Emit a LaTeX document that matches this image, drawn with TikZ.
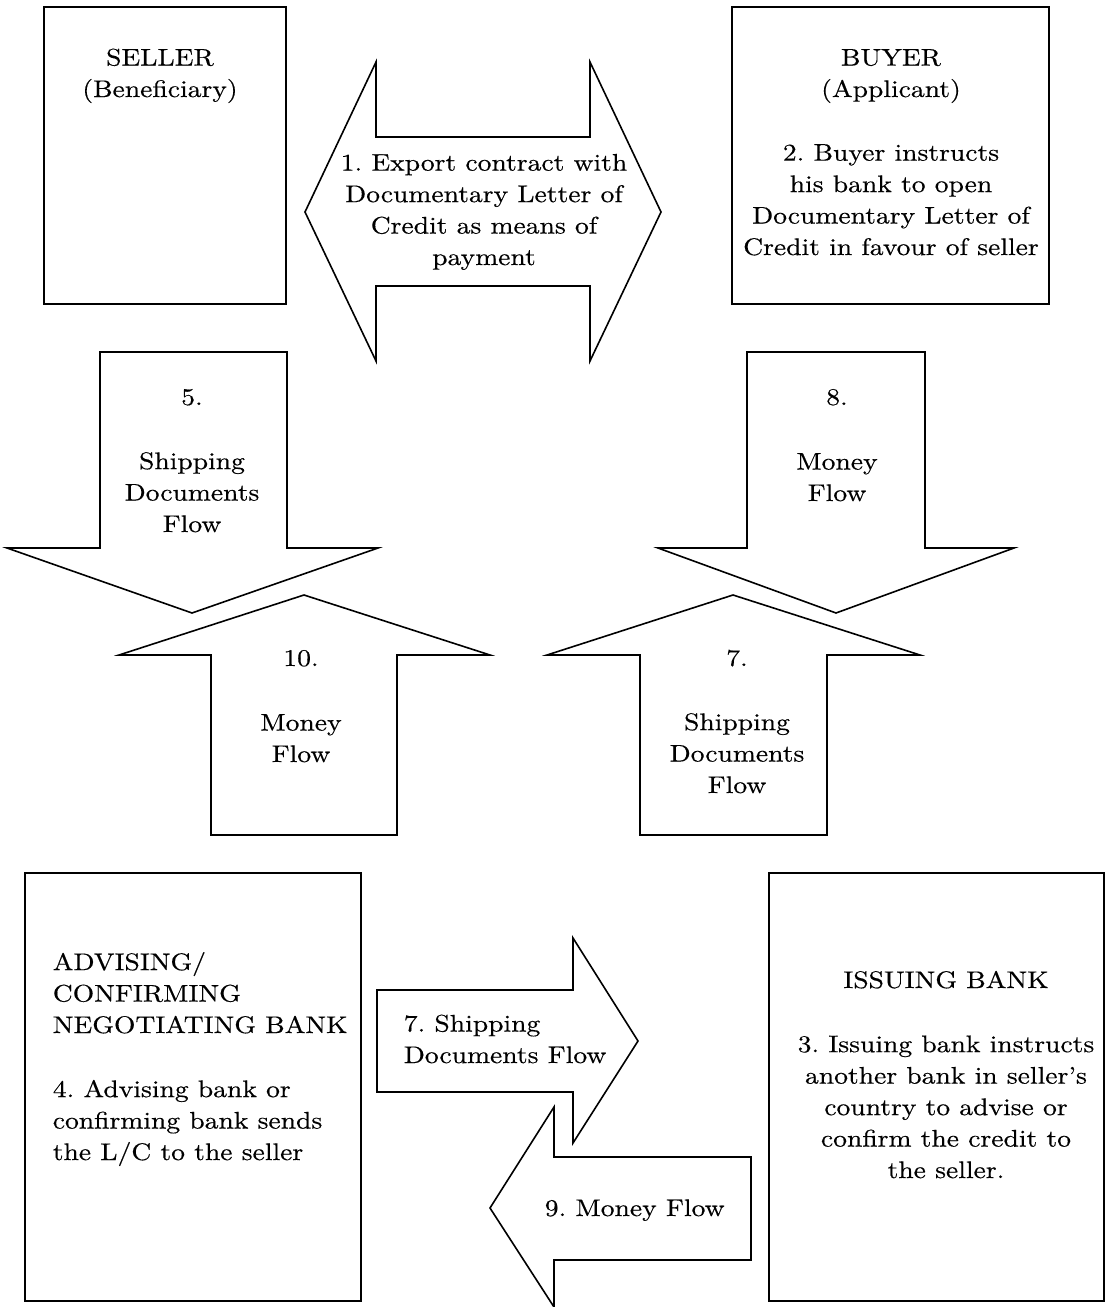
\documentclass[tikz,border=0pt]{standalone}
\usepackage{fontspec}
\setmainfont{lmroman10-regular.otf}[FakeStretch=1.15, FakeBold=0.4]
\usetikzlibrary{positioning}
\frenchspacing

\tikzset{
  txt/.style={align=center, inner sep=0pt, anchor=base},
  ltxt/.style={align=left, inner sep=0pt, anchor=base west},
}

\begin{document}
\begin{tikzpicture}[x=0.75pt, y=-0.75pt, line width=1.2pt,
    font=\fontsize{18pt}{23.6pt}\selectfont]

  \useasboundingbox (0,0) rectangle (1109,1307);

  % the four parties
  \draw (44,7) rectangle (286,304);
  \draw (732,7) rectangle (1049,304);
  \draw (25,873) rectangle (361,1301);
  \draw (769,873) rectangle (1104,1301);

  % 1. contract between seller and buyer (double arrow)
  \draw (305,212) -- (376,62) -- (376,137) -- (590,137) -- (590,62)
     -- (661,212) -- (590,361) -- (590,286) -- (376,286) -- (376,361) -- cycle;

  % 5. and 8. (down)
  \draw (100,352) -- (287,352) -- (287,548) -- (378,548) -- (192,613)
     -- (7,548) -- (100,548) -- cycle;
  \draw (747,352) -- (925,352) -- (925,548) -- (1014,548) -- (836,613)
     -- (658,548) -- (747,548) -- cycle;

  % 10. and 7. (up)
  \draw (211,835) -- (397,835) -- (397,655) -- (490,655) -- (304,595)
     -- (119,655) -- (211,655) -- cycle;
  \draw (640,835) -- (827,835) -- (827,655) -- (920,655) -- (733,595)
     -- (547,655) -- (640,655) -- cycle;

  % between the banks
  \draw (377,990) -- (573,990) -- (573,938) -- (638,1041) -- (573,1143)
     -- (573,1092) -- (377,1092) -- cycle;
  \draw (751,1157) -- (554,1157) -- (554,1107) -- (490,1208) -- (554,1307)
     -- (554,1260) -- (751,1260) -- cycle;

  % texts (base = baseline of the last line)
  \node[txt] (seller) at (160,97) {SELLER\\(Beneficiary)};
  \node[txt] (buyer) at (891,97) {BUYER\\(Applicant)};
  \node[txt] (buyerstep) at (891,255) {2. Buyer instructs\\his bank to open\\Documentary Letter of\\Credit in favour of seller};
  \node[txt] (contract) at (484,265) {1. Export contract with\\Documentary Letter of\\Credit as means of\\payment};

  \node[txt] (num5) at (192,405) {5.};
  \node[txt] (docs5) at (192,532) {Shipping\\Documents\\Flow};
  \node[txt] (num8) at (837,405) {8.};
  \node[txt] (money8) at (837,501) {Money\\Flow};
  \node[txt] (num10) at (301,666) {10.};
  \node[txt] (money10) at (301,762) {Money\\Flow};
  \node[txt] (num7) at (737,666) {7.};
  \node[txt] (docs7) at (737,793) {Shipping\\Documents\\Flow};

  \node[ltxt] (advising) at (52,1033) {ADVISING/\\CONFIRMING\\NEGOTIATING BANK};
  \node[ltxt] (advstep) at (52,1160) {4. Advising bank or\\confirming bank sends\\the L/C to the seller};
  \node[txt] (issuing) at (946,988) {ISSUING BANK};
  \node[txt] (issstep) at (946,1178) {3. Issuing bank instructs\\another bank in seller's\\country to advise or\\confirm the credit to\\the seller.};

  \node[ltxt] (docs7b) at (403,1063) {7. Shipping\\Documents Flow};
  \node[ltxt] (money9) at (544,1216) {9. Money Flow};

\end{tikzpicture}
\end{document}
